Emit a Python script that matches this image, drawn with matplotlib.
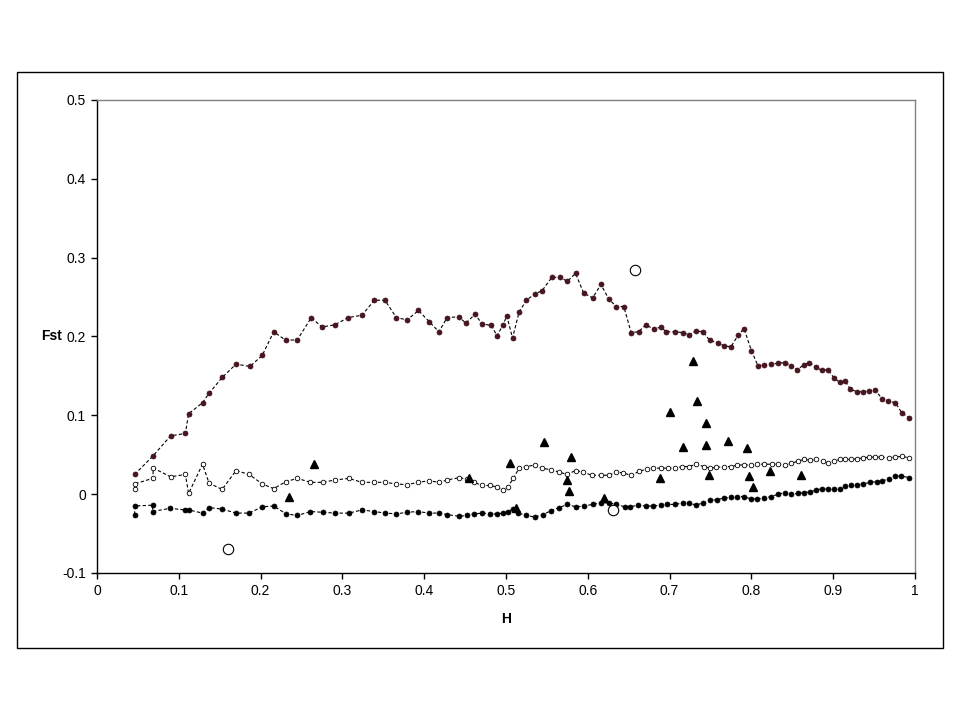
import numpy as np
import matplotlib.pyplot as plt
from matplotlib.patches import Rectangle

plt.rcParams['font.family'] = ['Liberation Sans', 'DejaVu Sans']

# upper series (dark red, dashed)
top_h = [0.046, 0.068, 0.090, 0.108, 0.112, 0.129, 0.137, 0.153, 0.170, 0.187,
         0.202, 0.216, 0.231, 0.245, 0.262, 0.275, 0.291, 0.307, 0.324, 0.339,
         0.352, 0.366, 0.379, 0.393, 0.406, 0.418, 0.428, 0.442, 0.451, 0.462,
         0.471, 0.482, 0.489, 0.496, 0.501, 0.508, 0.516, 0.525, 0.535, 0.544,
         0.556, 0.566, 0.575, 0.585, 0.595, 0.606, 0.616, 0.626, 0.635, 0.644,
         0.653, 0.662, 0.671, 0.681, 0.689, 0.696, 0.707, 0.716, 0.724, 0.732,
         0.741, 0.749, 0.759, 0.767, 0.775, 0.784, 0.791, 0.800, 0.808, 0.816,
         0.824, 0.833, 0.841, 0.848, 0.856, 0.864, 0.871, 0.879, 0.886, 0.894,
         0.901, 0.908, 0.915, 0.921, 0.929, 0.937, 0.944, 0.951, 0.960, 0.967,
         0.976, 0.984, 0.993]
top_fst = [0.025, 0.048, 0.074, 0.077, 0.102, 0.116, 0.128, 0.148, 0.165, 0.162,
           0.176, 0.206, 0.195, 0.196, 0.224, 0.212, 0.215, 0.224, 0.227, 0.246,
           0.246, 0.224, 0.221, 0.233, 0.219, 0.206, 0.224, 0.225, 0.217, 0.228,
           0.216, 0.214, 0.201, 0.214, 0.226, 0.198, 0.231, 0.246, 0.254, 0.258,
           0.275, 0.275, 0.270, 0.280, 0.255, 0.249, 0.266, 0.247, 0.238, 0.238,
           0.205, 0.206, 0.215, 0.209, 0.212, 0.206, 0.206, 0.205, 0.202, 0.207,
           0.206, 0.195, 0.192, 0.188, 0.187, 0.202, 0.210, 0.182, 0.163, 0.164,
           0.165, 0.166, 0.167, 0.163, 0.158, 0.164, 0.167, 0.161, 0.157, 0.158,
           0.147, 0.142, 0.143, 0.133, 0.130, 0.130, 0.131, 0.132, 0.121, 0.118,
           0.116, 0.103, 0.097]

# middle series (open circles, dashed)
mid_h = [0.046, 0.046, 0.068, 0.069, 0.090, 0.108, 0.112, 0.129, 0.137, 0.153,
         0.170, 0.186, 0.202, 0.216, 0.231, 0.245, 0.261, 0.276, 0.291, 0.308,
         0.324, 0.339, 0.352, 0.366, 0.379, 0.392, 0.406, 0.418, 0.428, 0.443,
         0.452, 0.461, 0.471, 0.481, 0.489, 0.496, 0.502, 0.509, 0.516, 0.525,
         0.535, 0.544, 0.555, 0.565, 0.575, 0.585, 0.594, 0.605, 0.616, 0.626,
         0.635, 0.643, 0.653, 0.663, 0.672, 0.680, 0.690, 0.698, 0.706, 0.715,
         0.724, 0.732, 0.742, 0.749, 0.757, 0.766, 0.775, 0.783, 0.791, 0.799,
         0.807, 0.816, 0.825, 0.833, 0.841, 0.849, 0.857, 0.864, 0.872, 0.879,
         0.887, 0.894, 0.901, 0.908, 0.915, 0.922, 0.929, 0.937, 0.944, 0.951,
         0.959, 0.968, 0.976, 0.984, 0.993]
mid_fst = [0.007, 0.013, 0.020, 0.033, 0.022, 0.025, 0.001, 0.038, 0.014, 0.006,
           0.030, 0.025, 0.013, 0.007, 0.016, 0.020, 0.015, 0.015, 0.018, 0.020,
           0.015, 0.015, 0.015, 0.013, 0.012, 0.015, 0.017, 0.015, 0.018, 0.021,
           0.019, 0.015, 0.011, 0.011, 0.009, 0.005, 0.009, 0.020, 0.033, 0.035,
           0.037, 0.033, 0.031, 0.028, 0.025, 0.030, 0.028, 0.024, 0.024, 0.024,
           0.028, 0.027, 0.024, 0.029, 0.032, 0.033, 0.033, 0.033, 0.033, 0.035,
           0.035, 0.038, 0.035, 0.033, 0.034, 0.035, 0.035, 0.037, 0.037, 0.037,
           0.038, 0.038, 0.038, 0.038, 0.037, 0.039, 0.042, 0.044, 0.043, 0.044,
           0.042, 0.040, 0.042, 0.044, 0.044, 0.044, 0.045, 0.046, 0.047, 0.047,
           0.047, 0.046, 0.047, 0.048, 0.046]

# lower series (filled black, dashed)
low_h = [0.046, 0.046, 0.068, 0.068, 0.089, 0.108, 0.112, 0.129, 0.137, 0.153,
         0.170, 0.186, 0.202, 0.216, 0.231, 0.245, 0.261, 0.276, 0.291, 0.308,
         0.324, 0.339, 0.352, 0.366, 0.379, 0.392, 0.406, 0.418, 0.428, 0.443,
         0.452, 0.461, 0.471, 0.481, 0.489, 0.496, 0.502, 0.509, 0.515, 0.525,
         0.535, 0.545, 0.555, 0.565, 0.575, 0.585, 0.595, 0.606, 0.616, 0.626,
         0.635, 0.645, 0.652, 0.661, 0.671, 0.680, 0.689, 0.697, 0.707, 0.716,
         0.724, 0.732, 0.741, 0.749, 0.758, 0.766, 0.775, 0.783, 0.791, 0.799,
         0.807, 0.816, 0.824, 0.833, 0.841, 0.849, 0.857, 0.864, 0.872, 0.879,
         0.886, 0.894, 0.901, 0.908, 0.915, 0.922, 0.929, 0.937, 0.945, 0.953,
         0.960, 0.968, 0.976, 0.983, 0.993]
low_fst = [-0.026, -0.015, -0.014, -0.022, -0.018, -0.020, -0.020, -0.024, -0.017, -0.019,
           -0.024, -0.024, -0.016, -0.015, -0.025, -0.027, -0.022, -0.023, -0.024, -0.024,
           -0.020, -0.022, -0.024, -0.025, -0.023, -0.022, -0.024, -0.024, -0.026, -0.028,
           -0.027, -0.025, -0.024, -0.025, -0.025, -0.024, -0.022, -0.019, -0.024, -0.027,
           -0.029, -0.026, -0.021, -0.017, -0.013, -0.016, -0.015, -0.013, -0.011, -0.011,
           -0.013, -0.016, -0.016, -0.014, -0.015, -0.015, -0.014, -0.013, -0.013, -0.011,
           -0.011, -0.014, -0.011, -0.008, -0.007, -0.005, -0.004, -0.003, -0.003, -0.006,
           -0.006, -0.005, -0.003, 0.000, 0.002, 0.000, 0.001, 0.002, 0.003, 0.005,
           0.007, 0.006, 0.006, 0.007, 0.010, 0.011, 0.012, 0.013, 0.015, 0.016,
           0.017, 0.019, 0.023, 0.023, 0.021]

# single loci (triangles)
tri_h = [0.235, 0.265, 0.455, 0.505, 0.512, 0.546, 0.574, 0.577, 0.579, 0.620,
         0.688, 0.701, 0.716, 0.728, 0.733, 0.744, 0.745, 0.748, 0.772, 0.795,
         0.797, 0.802, 0.823, 0.861]
tri_fst = [-0.003, 0.038, 0.021, 0.039, -0.017, 0.066, 0.018, 0.004, 0.047, -0.005,
           0.020, 0.104, 0.060, 0.169, 0.118, 0.090, 0.063, 0.024, 0.068, 0.058,
           0.023, 0.009, 0.030, 0.024]

# large open circles
circ_h = [0.160, 0.631, 0.658]
circ_fst = [-0.070, -0.020, 0.284]

fig = plt.figure(figsize=(9.6, 7.2), dpi=100)
fig.patches.append(Rectangle((17 / 960, 1 - 648 / 720), 926 / 960, 576 / 720,
                             transform=fig.transFigure, fill=False,
                             edgecolor='black', linewidth=1.0))
ax = fig.add_axes([97 / 960, 1 - 573 / 720, 818 / 960, 473 / 720])

dash = dict(linestyle=(0, (3, 2)), linewidth=0.8, color='black')
ax.plot(top_h, top_fst, marker='o', markersize=3.6, markerfacecolor='#4b1520',
        markeredgecolor='#3a0f18', markeredgewidth=0.5, **dash)
ax.plot(mid_h, mid_fst, marker='o', markersize=3.3, markerfacecolor='white',
        markeredgecolor='black', markeredgewidth=0.6, **dash)
ax.plot(low_h, low_fst, marker='o', markersize=3.6, markerfacecolor='black',
        markeredgecolor='black', markeredgewidth=0.5, **dash)
ax.plot(tri_h, tri_fst, linestyle='none', marker='^', markersize=5.5,
        color='black')
ax.plot(circ_h, circ_fst, linestyle='none', marker='o', markersize=7.5,
        markerfacecolor='white', markeredgecolor='black', markeredgewidth=0.8)

ax.set_xlim(0, 1)
ax.set_ylim(-0.1, 0.5)
ax.set_xticks(np.arange(0, 1.01, 0.1))
ax.set_yticks(np.arange(-0.1, 0.51, 0.1))
ax.set_xticklabels(['0', '0.1', '0.2', '0.3', '0.4', '0.5', '0.6', '0.7',
                    '0.8', '0.9', '1'])
ax.set_yticklabels(['-0.1', '0', '0.1', '0.2', '0.3', '0.4', '0.5'])
ax.tick_params(direction='out', length=4, width=1, labelsize=10, pad=4)

for side in ['left', 'bottom']:
    ax.spines[side].set_color('black')
    ax.spines[side].set_linewidth(1.0)
for side in ['top', 'right']:
    ax.spines[side].set_color('#808080')
    ax.spines[side].set_linewidth(1.0)

fig.text(52 / 960, 1 - 336 / 720, 'Fst', fontsize=10, fontweight='bold',
         ha='center', va='center')
ax.set_xlabel('H', fontsize=10, fontweight='bold', labelpad=10)

fig.savefig('out.png', dpi=100)
